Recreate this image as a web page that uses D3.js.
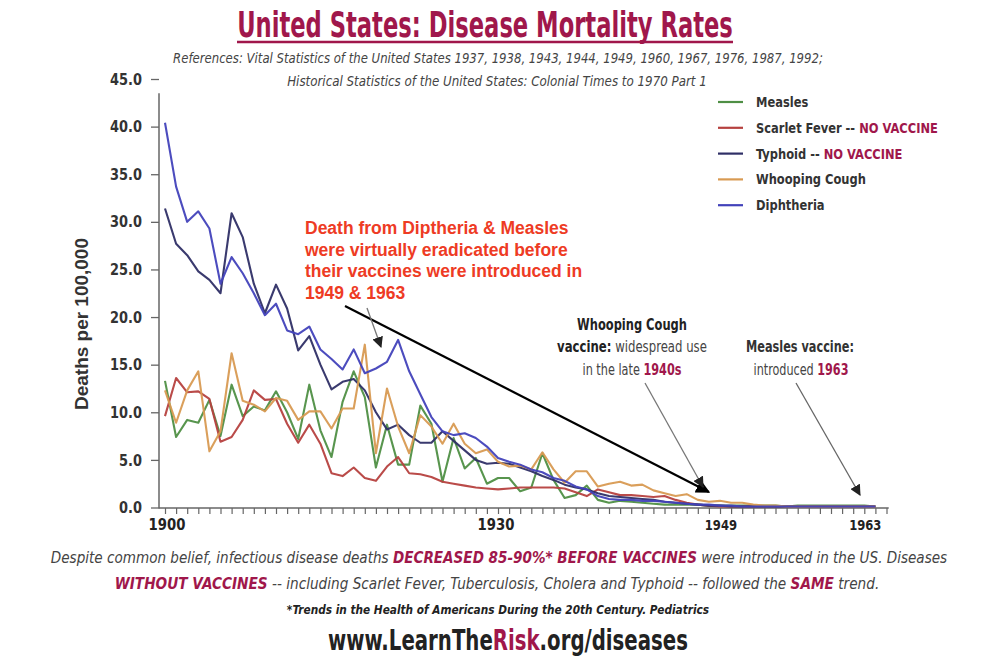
<!DOCTYPE html>
<html><head><meta charset="utf-8">
<script src="https://cdn.jsdelivr.net/npm/d3@7"></script>
<style>
html,body{margin:0;padding:0;background:#fff;}
svg{display:block;}
</style></head>
<body>
<svg id="chart" width="1000" height="664"></svg>
<script>
// ---------- data (deaths per 100,000, yearly 1900-1964) ----------
const years = d3.range(1900, 1965);
const measles = [13.3,7.4,9.2,8.9,11.3,7.5,12.9,9.6,10.6,10.2,12.2,10.0,7.2,12.9,8.1,5.3,11.1,14.3,11.6,4.2,
  8.7,4.5,4.5,10.7,8.8,2.7,7.3,4.1,5.2,2.5,3.1,3.1,1.7,2.1,5.7,2.9,1.0,1.3,2.3,0.8,
  0.5,0.7,0.6,0.5,0.4,0.3,0.3,0.3,0.3,0.2,0.2,0.2,0.2,0.2,0.2,0.2,0.1,0.2,0.2,0.2,0.2,0.2,0.2,0.2,0.1];
const scarletFever = [9.6,13.6,12.1,12.2,11.4,6.9,7.4,9.2,12.3,11.3,11.4,8.8,6.8,8.7,6.7,3.6,3.3,4.2,3.1,2.8,
  4.3,5.3,3.6,3.5,3.2,2.7,2.5,2.3,2.1,2.0,1.9,2.0,2.1,2.1,2.1,2.1,2.0,1.6,1.2,1.9,
  1.6,1.3,1.3,1.2,1.1,1.2,0.8,0.5,0.3,0.2,0.1,0.1,0.1,0.1,0.1,0.1,0.1,0.1,0.1,0.1,0.1,0.1,0.1,0.1,0.1];
const typhoid = [31.4,27.7,26.5,24.8,23.9,22.5,30.9,28.4,23.5,20.4,23.4,20.9,16.5,18.0,15.0,12.4,13.2,13.5,12.3,10.0,
  8.2,8.7,7.6,6.8,6.8,8.0,7.0,6.0,5.0,4.6,4.7,4.6,4.2,3.8,3.3,2.9,2.4,2.1,1.9,1.5,
  1.2,1.1,1.0,0.9,0.8,0.6,0.5,0.4,0.3,0.2,0.2,0.1,0.1,0.1,0.1,0.1,0.1,0.1,0.1,0.1,0.1,0.1,0.1,0.1,0.1];
const whoopingCough = [12.3,8.9,12.3,14.3,5.9,8.0,16.2,11.2,10.8,10.1,11.5,11.2,9.2,10.1,10.1,8.3,10.4,10.4,17.1,5.7,
  12.5,8.5,5.7,9.7,8.5,6.7,8.8,6.7,5.7,6.1,4.8,4.3,4.4,4.0,5.8,4.0,2.6,3.8,3.8,2.2,
  2.5,2.7,2.3,2.4,1.8,1.5,1.2,1.4,0.8,0.6,0.7,0.5,0.5,0.3,0.2,0.2,0.1,0.1,0.1,0.1,0.1,0.1,0.1,0.1,0.1];
const diphtheria = [40.4,33.7,30.0,31.1,29.3,23.5,26.3,24.6,22.5,20.2,21.4,18.6,18.2,19.0,16.6,15.6,14.5,16.6,14.1,14.6,
  15.3,17.6,14.3,11.9,9.5,8.0,7.6,7.8,7.3,6.4,5.2,4.8,4.5,4.0,3.7,3.1,2.8,2.2,1.9,1.2,
  0.9,0.8,0.8,0.7,0.7,0.6,0.5,0.4,0.3,0.3,0.2,0.2,0.1,0.1,0.1,0.1,0.1,0.1,0.1,0.1,0.1,0.1,0.1,0.1,0.1];

const seriesNames = ["Measles","Scarlet Fever","Typhoid","Whooping Cough","Diphtheria"];
const seriesTags = ["", " -- NO VACCINE", " -- NO VACCINE", "", ""];
const seriesValues = [measles, scarletFever, typhoid, whoopingCough, diphtheria];
const seriesColors = ["#4f8f45","#b6413f","#2f2f66","#d89a52","#4242ba"];
const yTickValues = [0,5,10,15,20,25,30,35,40,45];
const xTickYears = d3.range(1900, 1966);
const xLabelYears = [1900,1930,1949,1963];

// ---------- setup ----------
const CRIMSON = "#a0174b";
const NARROW = "'Liberation Sans Narrow','DejaVu Sans Condensed','Roboto Condensed','Arial Narrow',sans-serif";
const ARIAL = "'Liberation Sans',Arial,sans-serif";
const svg = d3.select("#chart");
const x = d3.scaleLinear().domain([1900, 1963]).range([165, 864.3]);
const y = d3.scaleLinear().domain([0, 45]).range([507.5, 79]);

// text helper; horizontal condensing done with a scale transform about the anchor point
function richText(g, px, py, parts, opts) {
  const t = g.append("text").attr("x", px).attr("y", py)
    .attr("text-anchor", opts.anchor || "middle")
    .attr("font-family", opts.family || NARROW)
    .attr("font-size", opts.size)
    .attr("font-weight", opts.weight || "normal")
    .attr("font-style", opts.style || "normal")
    .attr("fill", opts.fill || "#333");
  parts.forEach(p => {
    const s = t.append("tspan").text(p.t);
    if (p.fill) s.attr("fill", p.fill);
    if (p.weight) s.attr("font-weight", p.weight);
    if (p.style) s.attr("font-style", p.style);
  });
  let sx = opts.sx || 1;
  if (opts.len) sx = opts.len / t.node().getBBox().width;
  if (sx !== 1) t.attr("transform", `translate(${px},0) scale(${sx},1) translate(${-px},0)`);
  return t;
}

// ---------- title ----------
richText(svg, 485, 37, [{t:"United States: Disease Mortality Rates"}],
  {size:36, weight:"bold", fill:CRIMSON, len:496});
svg.append("line").attr("x1",237).attr("x2",733).attr("y1",42).attr("y2",42)
  .attr("stroke",CRIMSON).attr("stroke-width",2.5);
richText(svg, 498, 63, [{t:"References: Vital Statistics of the United States 1937, 1938, 1943, 1944, 1949, 1960, 1967, 1976, 1987, 1992;"}],
  {size:13.5, style:"italic", fill:"#444", len:650});
richText(svg, 497, 86, [{t:"Historical Statistics of the United States: Colonial Times to 1970 Part 1"}],
  {size:13.5, style:"italic", fill:"#444", len:420});

// ---------- axes ----------
const yAxis = d3.axisLeft(y).tickValues(yTickValues).tickSize(8).tickPadding(9)
  .tickFormat(d3.format(".1f"));
const gy = svg.append("g").attr("transform","translate(159,0)").call(yAxis);
gy.select(".domain").remove();
gy.selectAll(".tick line").attr("stroke","#666").attr("stroke-width",1.3);
gy.selectAll(".tick text").attr("font-family",NARROW).attr("font-size",16)
  .attr("font-weight","bold").attr("fill","#333")
  .attr("transform","translate(-17,0) scale(0.9,1) translate(17,0)");
svg.append("line").attr("x1",159).attr("x2",159).attr("y1",y(43.5)).attr("y2",508.5)
  .attr("stroke","#666").attr("stroke-width",1.5);

const xAxis = d3.axisBottom(x).tickValues(xTickYears).tickSize(6).tickFormat("");
const gx = svg.append("g").attr("transform","translate(0,508)").call(xAxis);
gx.select(".domain").remove();
gx.selectAll(".tick line").attr("stroke","#666").attr("stroke-width",1.2);
svg.append("line").attr("x1",159).attr("x2",x(1965.2)).attr("y1",508).attr("y2",508)
  .attr("stroke","#666").attr("stroke-width",1.5);

const labelStyle = {1900:{size:16,dx:2},1930:{size:16,dx:-2},1949:{size:14,dx:12},1963:{size:14,dx:1}};
xLabelYears.forEach(yr => {
  richText(svg, x(yr)+labelStyle[yr].dx, 530, [{t:String(yr)}],
    {size:labelStyle[yr].size, weight:"bold", fill:"#222", sx:0.92});
});

richText(svg.append("g").attr("transform","translate(88,324) rotate(-90)"), 0, 0,
  [{t:"Deaths per 100,000"}], {size:19, weight:"bold", fill:"#333", family:ARIAL, len:172});

// ---------- lines ----------
const line = d3.line().x((d,i) => x(years[i])).y(d => y(d)).curve(d3.curveLinear);
seriesValues.forEach((vals, k) => {
  svg.append("path").datum(vals).attr("d", line).attr("fill","none")
    .attr("stroke", seriesColors[k]).attr("stroke-width", 2.1)
    .attr("stroke-linejoin","round").attr("stroke-opacity",0.95);
});

// ---------- legend ----------
seriesNames.forEach((name, k) => {
  const ly = 102 + k*25.8;
  svg.append("line").attr("x1",718).attr("x2",743).attr("y1",ly).attr("y2",ly)
    .attr("stroke",seriesColors[k]).attr("stroke-width",2.2);
  const parts = [{t:name}];
  if (seriesTags[k]) { parts.push({t:" -- "}); parts.push({t:"NO VACCINE", fill:CRIMSON}); }
  richText(svg, 756, ly+5, parts, {anchor:"start", size:14.5, weight:"bold", fill:"#333", sx:0.88});
});

// ---------- annotations ----------
const defs = svg.append("defs");
function marker(id, color, size) {
  defs.append("marker").attr("id",id).attr("viewBox","0 0 10 10").attr("refX",9).attr("refY",5)
    .attr("markerWidth",size).attr("markerHeight",size).attr("orient","auto")
    .attr("markerUnits","userSpaceOnUse")
    .append("path").attr("d","M0,0 L10,5 L0,10 z").attr("fill",color);
}
marker("ahBlack","#000",14);
marker("ahGray","#222",11);
function arrow(x1,y1,x2,y2,color,w,m){
  svg.append("line").attr("x1",x1).attr("y1",y1).attr("x2",x2).attr("y2",y2)
    .attr("stroke",color).attr("stroke-width",w).attr("marker-end",`url(#${m})`);
}
arrow(345,306,x(1949),492,"#000",2.2,"ahBlack");
arrow(367,308,381,347,"#777",1.3,"ahGray");
arrow(645,383,703,487,"#777",1.3,"ahGray");
arrow(796,383,860,495,"#666",1.3,"ahGray");

const redLines = ["Death from Diptheria & Measles","were virtually eradicated before",
  "their vaccines were introduced in","1949 & 1963"];
redLines.forEach((s,i) => {
  richText(svg, 305, 234 + i*21.7, [{t:s}], {anchor:"start", size:17.5, weight:"bold", fill:"#ee3b24", family:ARIAL});
});

richText(svg, 632, 330, [{t:"Whooping Cough"}], {size:15, weight:"bold", fill:"#222", len:110});
richText(svg, 632, 352, [{t:"vaccine:", weight:"bold", fill:"#222"},{t:" widespread use"}], {size:15, fill:"#444", len:150});
richText(svg, 632, 375, [{t:"in the late "},{t:"1940s", weight:"bold", fill:CRIMSON}], {size:15, fill:"#444", len:99});
richText(svg, 800, 352, [{t:"Measles vaccine:"}], {size:15, weight:"bold", fill:"#333", len:108});
richText(svg, 801, 375, [{t:"introduced "},{t:"1963", weight:"bold", fill:CRIMSON}], {size:15, fill:"#444", len:95});

// ---------- footer ----------
richText(svg, 499, 563, [
  {t:"Despite common belief, infectious disease deaths "},
  {t:"DECREASED 85-90%* BEFORE VACCINES", weight:"bold", fill:CRIMSON},
  {t:" were introduced in the US. Diseases"}],
  {size:16.5, style:"italic", fill:"#444", len:897});
richText(svg, 497, 589, [
  {t:"WITHOUT VACCINES", weight:"bold", fill:CRIMSON},
  {t:" -- including Scarlet Fever, Tuberculosis, Cholera and Typhoid -- followed the "},
  {t:"SAME", weight:"bold", fill:CRIMSON},
  {t:" trend."}],
  {size:16.5, style:"italic", fill:"#444", len:765});
richText(svg, 498, 614, [{t:"*Trends in the Health of Americans During the 20th Century. Pediatrics"}],
  {size:12.5, style:"italic", weight:"bold", fill:"#222", len:423});
richText(svg, 508, 650, [{t:"www.LearnThe"},{t:"Risk", fill:CRIMSON},{t:".org/diseases"}],
  {size:28, weight:"bold", fill:"#222", len:360});
</script>
</body></html>
